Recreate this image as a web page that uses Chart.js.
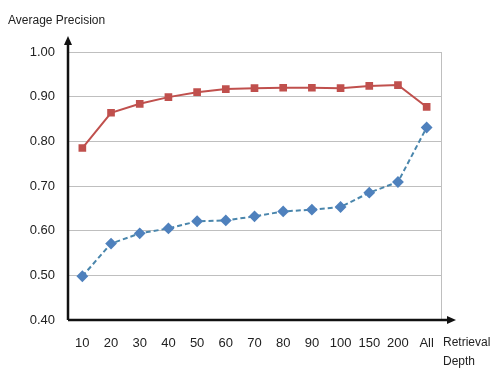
<!DOCTYPE html>
<html><head><meta charset="utf-8">
<script src="https://cdn.jsdelivr.net/npm/chart.js@4/dist/chart.umd.min.js"></script>
<style>
html,body{margin:0;padding:0;background:#fff;}
#wrap{position:relative;width:490px;height:370px;}
canvas{position:absolute;left:0;top:0;}
.lbl{position:absolute;font-family:"Liberation Sans",Arial,sans-serif;font-size:12px;color:#222;white-space:nowrap;line-height:19px;}
</style></head><body>
<div id="wrap">
<canvas id="c" width="490" height="370"></canvas>
<div class="lbl" style="left:8px;top:11px;">Average Precision</div>
<div class="lbl" style="left:443px;top:333px;">Retrieval<br>Depth</div>
</div>
<script>
const categories = ["10","20","30","40","50","60","70","80","90","100","150","200","All"];
const seriesUpper = [0.785,0.864,0.884,0.899,0.910,0.917,0.919,0.920,0.920,0.919,0.924,0.926,0.877];
const seriesLower = [0.498,0.571,0.594,0.605,0.621,0.623,0.632,0.643,0.647,0.653,0.685,0.709,0.831];
const yTicks = [0.40,0.50,0.60,0.70,0.80,0.90,1.00];

const font = {family:'"Liberation Sans",Arial,sans-serif', size:13};

const axesPlugin = {
  id:'axesArrows',
  afterDraw(chart){
    const ctx = chart.ctx, a = chart.chartArea;
    ctx.save();
    ctx.strokeStyle = '#BFBFBF'; ctx.lineWidth = 1;
    ctx.beginPath(); ctx.moveTo(a.right+0.5, a.top); ctx.lineTo(a.right+0.5, a.bottom); ctx.stroke();
    ctx.strokeStyle = '#111'; ctx.fillStyle = '#111'; ctx.lineWidth = 2.5;
    ctx.beginPath(); ctx.moveTo(a.left, a.bottom); ctx.lineTo(a.left, a.top - 12); ctx.stroke();
    ctx.beginPath(); ctx.moveTo(a.left, a.bottom); ctx.lineTo(a.right + 10, a.bottom); ctx.stroke();
    ctx.beginPath(); ctx.moveTo(a.left, a.top - 16); ctx.lineTo(a.left - 4, a.top - 7); ctx.lineTo(a.left + 4, a.top - 7); ctx.closePath(); ctx.fill();
    ctx.beginPath(); ctx.moveTo(a.right + 15, a.bottom); ctx.lineTo(a.right + 6, a.bottom - 4); ctx.lineTo(a.right + 6, a.bottom + 4); ctx.closePath(); ctx.fill();
    ctx.restore();
  }
};

new Chart(document.getElementById('c'), {
  type:'line',
  data:{
    labels: categories,
    datasets:[
      {data: seriesUpper, borderColor:'#C0504D', backgroundColor:'#C0504D', borderWidth:2,
       pointStyle:'rect', pointRadius:4, pointHoverRadius:4, tension:0},
      {data: seriesLower, borderColor:'#4A86AC', backgroundColor:'#4F81BD', borderWidth:2, borderDash:[5,3],
       pointStyle:'rectRot', pointRadius:4.5, pointHoverRadius:4.5, pointBorderColor:'#4F81BD', tension:0}
    ]
  },
  plugins:[axesPlugin],
  options:{
    responsive:false, animation:false,
    layout:{padding:{top:52, right:49, left:0, bottom:0}},
    plugins:{legend:{display:false}, tooltip:{enabled:false}},
    scales:{
      x:{
        offset:true,
        grid:{display:false, drawTicks:false},
        border:{display:false},
        ticks:{font:font, color:'#222', padding:16, maxRotation:0, autoSkip:false},
        afterFit(s){ s.height = 50; }
      },
      y:{
        min:0.4, max:1.0,
        grid:{color:'#BFBFBF', lineWidth:1, drawTicks:false},
        border:{display:false},
        afterBuildTicks(s){ s.ticks = yTicks.map(v=>({value:v})); },
        ticks:{font:font, color:'#222', padding:13, callback:v=>Number(v).toFixed(2)},
        afterFit(s){ s.width = 68; }
      }
    }
  }
});
</script>
</body></html>
